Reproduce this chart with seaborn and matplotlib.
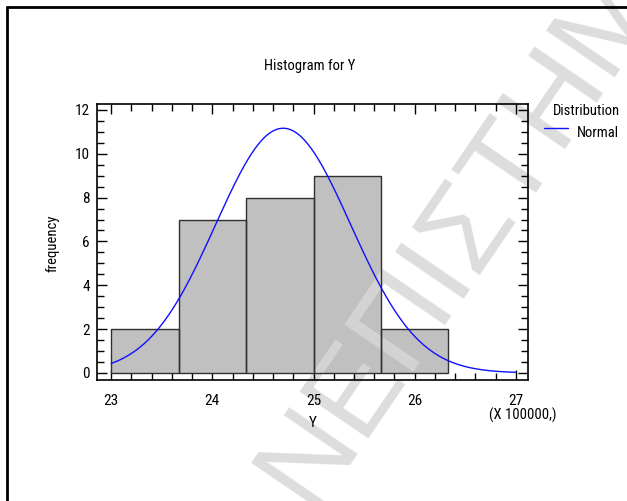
import numpy as np
import pandas as pd
import matplotlib
matplotlib.use("Agg")
import matplotlib.pyplot as plt
from matplotlib import font_manager
from matplotlib.font_manager import FontProperties
from matplotlib.lines import Line2D
from matplotlib.ticker import MultipleLocator
from matplotlib.transforms import Bbox, TransformedBbox
import seaborn as sns

# ---- data ----
bin_edges = [23.0, 23.6667, 24.3333, 25.0, 25.6667, 26.3333]
counts = [2, 7, 8, 9, 2]
fit_mean = 24.70
fit_sd = 0.667
x_ticks = [23, 24, 25, 26, 27]
y_ticks = [0, 2, 4, 6, 8, 10, 12]
watermark = "ΝΕΠΙΣΤΗΜ"

sns.set_theme(style="white")
plt.rcParams["font.family"] = ["Liberation Sans", "DejaVu Sans"]


def pick_narrow():
    prefs = ["Liberation Sans Narrow", "Arial Narrow", "Roboto Condensed",
             "Noto Sans", "Open Sans", "DejaVu Sans", "Roboto", "Inter", "Lato"]
    cands = []
    for f in font_manager.fontManager.ttflist:
        st = str(f.stretch).lower()
        nm = f.name
        narrow = ("narrow" in nm.lower()) or ("condensed" in nm.lower()) or \
                 ("condensed" in st and "semi" not in st) or \
                 ("condensed" in f.fname.lower() and "semi" not in f.fname.lower()
                  and "extra" not in f.fname.lower())
        if not narrow or f.style != "normal":
            continue
        w = f.weight
        if isinstance(w, str):
            w = {"normal": 400, "regular": 400, "book": 400}.get(w.lower(), 700)
        if w != 400:
            continue
        if "mono" in nm.lower() or "serif" in nm.lower() and "sans" not in nm.lower():
            continue
        rank = len(prefs)
        for i, p in enumerate(prefs):
            if nm.startswith(p):
                rank = i
                break
        cands.append((rank, f.fname))
    if cands:
        cands.sort()
        return cands[0][1]
    return None


narrow_file = pick_narrow()


def fp(size):
    if narrow_file:
        return FontProperties(fname=narrow_file, size=size)
    return FontProperties(family="Liberation Sans", size=size * 0.8)


FS = 10.5
W, H = 627, 501
WM_POS = (461 / W, 1 - 234 / H)
WM_KW = dict(fontsize=87, family="Liberation Sans", rotation=55.7,
             rotation_mode="anchor", ha="center", va="center")

fig = plt.figure(figsize=(W / 100, H / 100), dpi=100)
ax = fig.add_axes([97 / W, 1 - 380 / H, (528 - 97) / W, (380 - 104) / H])
ax.set_facecolor("none")

# watermark on the white page (below the axes content)
fig.text(*WM_POS, watermark, color="#DDDDDD", zorder=-1, **WM_KW)

centers = [(bin_edges[i] + bin_edges[i + 1]) / 2 for i in range(len(counts))]
df = pd.DataFrame({"Y": centers, "count": counts})
# bar fills
sns.histplot(data=df, x="Y", weights="count", bins=bin_edges, ax=ax,
             color="#C0C0C0", edgecolor="none", linewidth=0, alpha=1.0, zorder=1)
fill_bars = list(ax.patches)
# watermark seen through the bars (lighter on grey)
for p in fill_bars:
    t = ax.text(*WM_POS, watermark, transform=fig.transFigure, color="#D4D4D4",
                zorder=1.2, clip_on=True, **WM_KW)
    t.set_clip_box(TransformedBbox(Bbox.from_bounds(p.get_x(), p.get_y(),
                                                    p.get_width(), p.get_height()),
                                   ax.transData))
# bar outlines
sns.histplot(data=df, x="Y", weights="count", bins=bin_edges, ax=ax, fill=False,
             color="#303030", linewidth=1.0, zorder=1.4)

bw = bin_edges[1] - bin_edges[0]
n = sum(counts)
xs = np.linspace(23, 27, 300)
ys = n * bw / (fit_sd * np.sqrt(2 * np.pi)) * np.exp(-0.5 * ((xs - fit_mean) / fit_sd) ** 2)
sns.lineplot(x=xs, y=ys, ax=ax, color="#1010FF", linewidth=1.0, zorder=5)

ax.set_xlim(22.86, 27.12)
ax.set_ylim(-0.32, 12.27)
ax.set_xticks(x_ticks)
ax.set_yticks(y_ticks)
ax.xaxis.set_minor_locator(MultipleLocator(0.2))
ax.yaxis.set_minor_locator(MultipleLocator(0.5))
ax.tick_params(which="both", direction="in", top=True, right=True, bottom=True, left=True,
               labeltop=False, labelright=False, color="black", width=1.0)
ax.tick_params(which="major", length=7)
ax.tick_params(which="minor", length=5)
ax.tick_params(axis="x", which="major", pad=10)
ax.tick_params(axis="y", which="major", pad=5)
for lab in ax.get_xticklabels() + ax.get_yticklabels():
    lab.set_fontproperties(fp(FS + 0.5))
    lab.set_color("black")
for s in ax.spines.values():
    s.set_color("black")
    s.set_linewidth(1.2)

ax.set_xlabel("Y", fontproperties=fp(FS + 0.5), color="black")
ax.xaxis.set_label_coords((313 - 97) / 431, (380 - 416) / 276)
ax.set_ylabel("frequency", fontproperties=fp(FS), color="black")
ax.yaxis.set_label_coords((59 - 97) / 431, (380 - 243) / 276)

fig.text(310 / W, 1 - 66 / H, "Histogram for Y", fontproperties=fp(FS),
         ha="center", va="center", color="black")
fig.text(523 / W, 1 - 415 / H, "(X 100000,)", fontproperties=fp(FS),
         ha="center", va="center", color="black")

# legend
fig.text(586 / W, 1 - 111 / H, "Distribution", fontproperties=fp(FS),
         ha="center", va="center", color="black")
fig.add_artist(Line2D([544 / W, 568 / W], [1 - 128 / H, 1 - 128 / H],
                      color="#1010FF", linewidth=1.0))
fig.text(577 / W, 1 - 133 / H, "Normal", fontproperties=fp(FS),
         ha="left", va="center", color="black")

# outer border (left and top)
fig.add_artist(Line2D([7 / W, 7 / W], [0, 1 - 7 / H], color="black", linewidth=2))
fig.add_artist(Line2D([7 / W, 1], [1 - 7 / H, 1 - 7 / H], color="black", linewidth=2))

fig.savefig("out.png", dpi=100, facecolor="white")
